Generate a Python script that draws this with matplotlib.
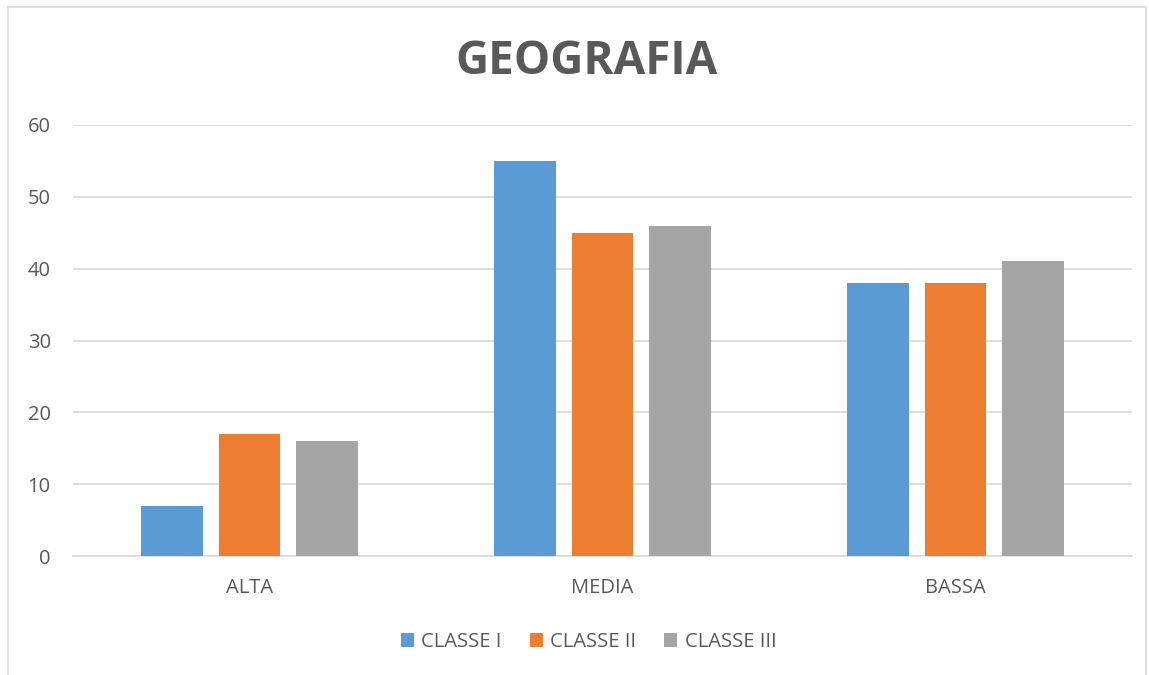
import matplotlib.pyplot as plt
import numpy as np
from matplotlib.patches import Rectangle

categories = ['ALTA', 'MEDIA', 'BASSA']
series = ['CLASSE I', 'CLASSE II', 'CLASSE III']
classe_1 = [7, 55, 38]
classe_2 = [17, 45, 38]
classe_3 = [16, 46, 41]
colors = ['#5B9BD5', '#ED7D31', '#A5A5A5']

plt.rcParams['font.family'] = ['Open Sans', 'DejaVu Sans']
text_color = '#595959'

fig = plt.figure(figsize=(11.49, 6.75), dpi=100)
ax = fig.add_axes([73 / 1149, 1 - 556 / 675, (1132 - 73) / 1149, (556 - 125) / 675])

# chart border
fig.patches.append(Rectangle((8 / 1149, -0.01), (1146 - 8) / 1149, 1 - 7 / 675 + 0.01,
                             transform=fig.transFigure, fill=False,
                             edgecolor='#D9D9D9', linewidth=1.2))

x = np.arange(len(categories))
width = 0.175
offset = 0.22
for i, (vals, name) in enumerate(zip([classe_1, classe_2, classe_3], series)):
    ax.bar(x + (i - 1) * offset, vals, width, color=colors[i], label=name, zorder=3)

ax.set_xlim(-0.5, 2.5)
ax.set_ylim(0, 60)
ax.set_yticks(range(0, 61, 10))
ax.set_xticks(x)
ax.set_xticklabels(categories)
ax.grid(axis='y', color='#D9D9D9', linewidth=1.2, zorder=0)
for s in ['top', 'right', 'left']:
    ax.spines[s].set_visible(False)
ax.spines['bottom'].set_color('#D9D9D9')
ax.spines['bottom'].set_linewidth(1.2)
ax.tick_params(axis='both', length=0, labelsize=14.5, colors=text_color)
ax.tick_params(axis='y', pad=16)
ax.tick_params(axis='x', pad=16)

fig.text(586 / 1149, 1 - 61 / 675, 'GEOGRAFIA', ha='center', va='center',
         fontsize=33, fontweight='bold', color=text_color)

leg = ax.legend(loc='center', bbox_to_anchor=(0.487, -0.2), ncol=3, frameon=False,
                fontsize=14.5, handlelength=0.65, handleheight=0.65, columnspacing=1.4,
                handletextpad=0.35)
for t in leg.get_texts():
    t.set_color(text_color)

plt.savefig('out.png', dpi=100)
